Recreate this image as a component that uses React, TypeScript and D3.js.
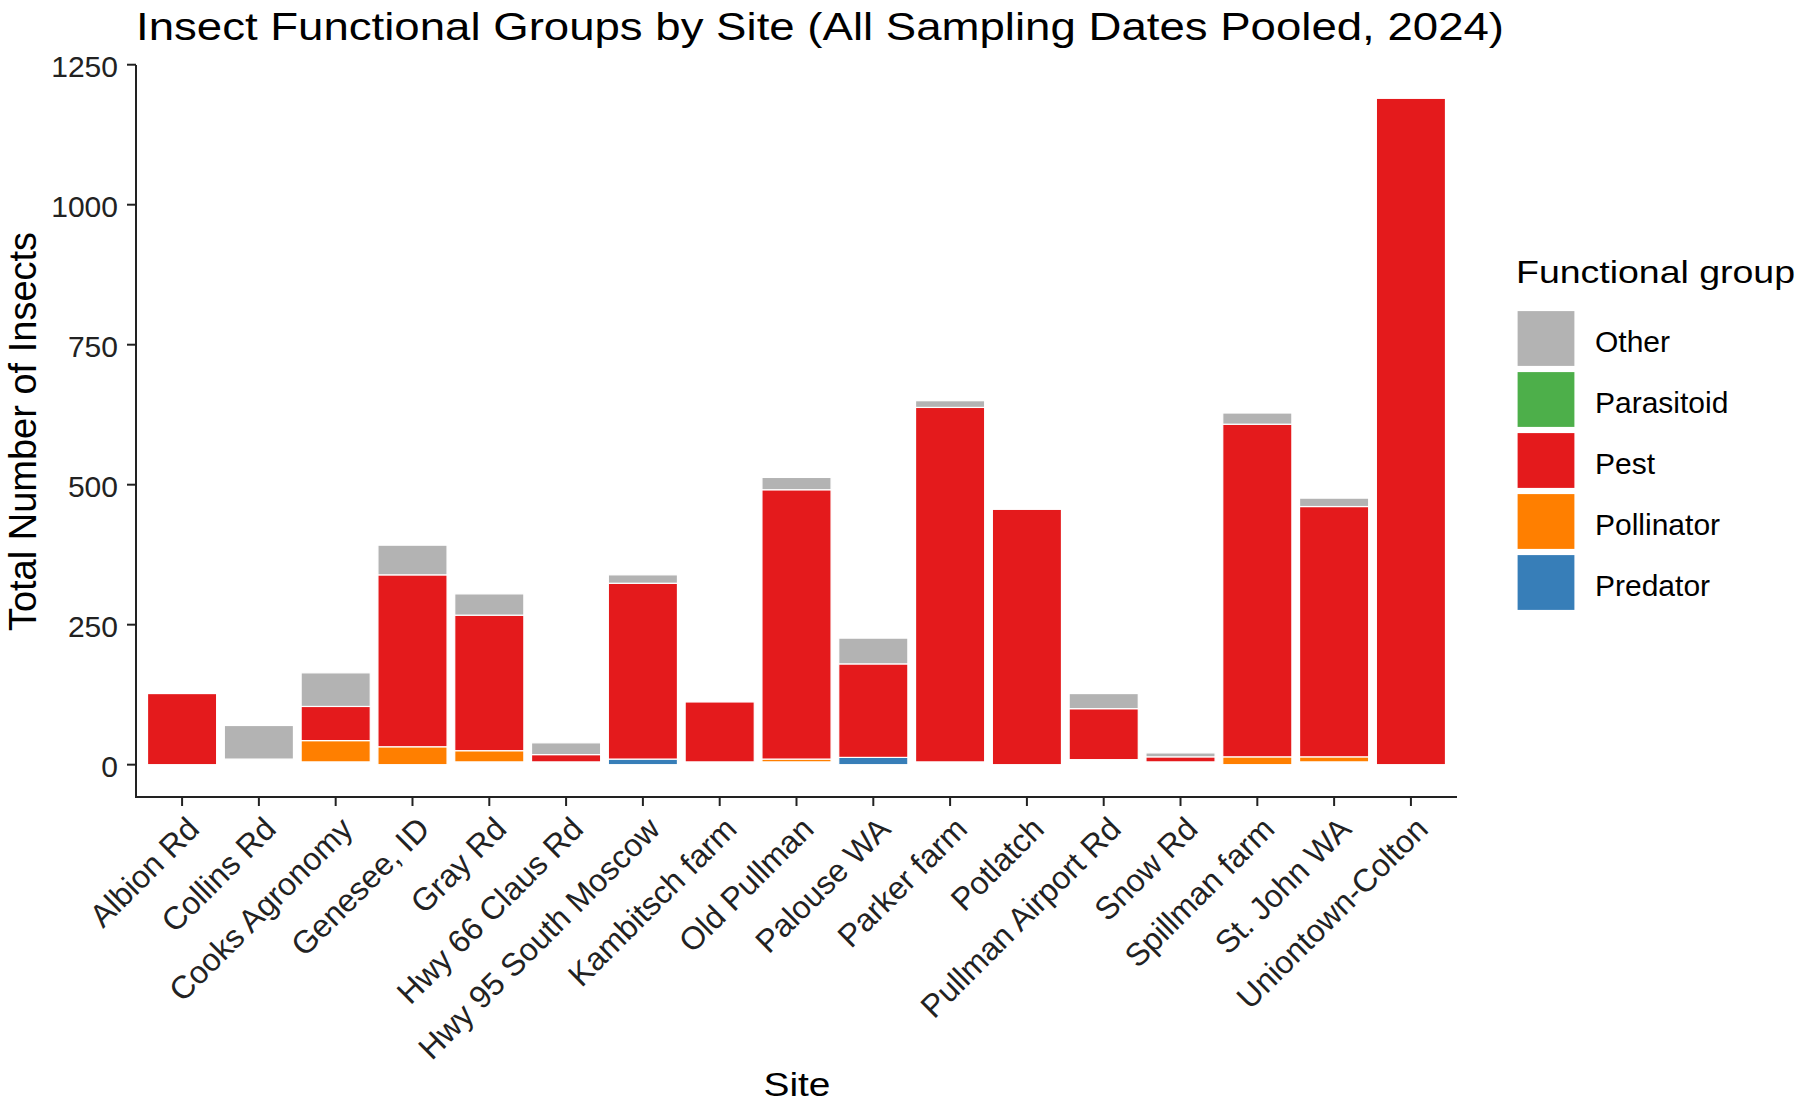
import React, { useEffect, useRef } from "react";
import * as d3 from "d3";

const sites = [
  "Albion Rd", "Collins Rd", "Cooks Agronomy", "Genesee, ID", "Gray Rd",
  "Hwy 66 Claus Rd", "Hwy 95 South Moscow", "Kambitsch farm", "Old Pullman",
  "Palouse WA", "Parker farm", "Potlatch", "Pullman Airport Rd", "Snow Rd",
  "Spillman farm", "St. John WA", "Uniontown-Colton",
];
const groups = ["Other", "Parasitoid", "Pest", "Pollinator", "Predator"];
const groupColors = ["#B3B3B3", "#4DAF4A", "#E41A1C", "#FF7F00", "#377EB8"];

// counts per site (same order as sites)
const other = [0, 60, 60, 53, 38, 21, 15, 0, 22, 46, 12, 0, 27, 7, 20, 15, 0];
const parasitoid = [0, 0, 0, 0, 0, 0, 0, 0, 0, 0, 0, 0, 0, 0, 0, 0, 0];
const pest = [127, 0, 61, 307, 242, 13, 314, 107, 481, 167, 633, 456, 91, 9, 594, 447, 1190];
const pollinator = [0, 0, 38, 32, 20, 0, 0, 0, 5, 0, 0, 0, 0, 0, 14, 9, 0];
const predator = [0, 0, 0, 0, 0, 0, 10, 0, 0, 13, 0, 0, 0, 0, 0, 0, 0];
// rows with no functional group (NA), drawn without fill
const unassigned = [0, 10, 5, 0, 5, 5, 0, 5, 5, 0, 5, 0, 9, 5, 0, 5, 0];

const yTicks = [0, 250, 500, 750, 1000, 1250];

const FONT = '"Liberation Sans", Arial, sans-serif';

const App = () => {
  const ref = useRef<SVGSVGElement>(null);

  useEffect(() => {
    const svg = d3.select(ref.current);
    svg.selectAll("*").remove();

    const rows = sites.map((s, i) => ({
      site: s,
      NA: unassigned[i],
      Predator: predator[i],
      Pollinator: pollinator[i],
      Pest: pest[i],
      Parasitoid: parasitoid[i],
      Other: other[i],
    }));
    const stackKeys = ["NA", "Predator", "Pollinator", "Pest", "Parasitoid", "Other"];
    const stacked = d3.stack<any>().keys(stackKeys)(rows);
    const maxTotal = d3.max(stacked[stacked.length - 1], (d) => d[1]) as number;

    const color = d3.scaleOrdinal<string, string>().domain(groups).range(groupColors);

    const left = 136, right = 1457, top = 65, bottom = 798;
    const x = d3.scaleBand().domain(sites).range([left, right]).paddingInner(0.1).paddingOuter(0.15);
    const y = d3.scaleLinear().domain([-0.05 * maxTotal, 1.05 * maxTotal]).range([bottom, top]);

    // bars
    const bars = svg.append("g").attr("id", "bars");
    stacked.forEach((layer) => {
      const fill = layer.key === "NA" ? "none" : color(layer.key);
      bars.append("g")
        .selectAll("rect")
        .data(layer.filter((d) => d[1] - d[0] > 0))
        .join("rect")
        .attr("x", (d) => x(d.data.site) as number)
        .attr("width", x.bandwidth())
        .attr("y", (d) => y(d[1]))
        .attr("height", (d) => y(d[0]) - y(d[1]))
        .attr("fill", fill)
        .attr("stroke", layer.key === "NA" ? "none" : "white")
        .attr("stroke-width", 1.2);
    });

    // axes
    const axis = svg.append("g").attr("id", "axes");
    axis.append("line")
      .attr("x1", left).attr("x2", left).attr("y1", top).attr("y2", bottom - 1)
      .attr("stroke", "#222").attr("stroke-width", 2);
    axis.append("line")
      .attr("x1", left - 1).attr("x2", right).attr("y1", bottom - 1).attr("y2", bottom - 1)
      .attr("stroke", "#222").attr("stroke-width", 2);

    yTicks.forEach((t) => {
      axis.append("line")
        .attr("x1", left - 9).attr("x2", left).attr("y1", y(t)).attr("y2", y(t))
        .attr("stroke", "#222").attr("stroke-width", 2);
      axis.append("text")
        .attr("x", left - 18).attr("y", y(t) + 12)
        .attr("text-anchor", "end")
        .attr("font-family", FONT).attr("font-size", "30px").attr("fill", "#222")
        .text(t);
    });

    sites.forEach((s) => {
      const cx = (x(s) as number) + x.bandwidth() / 2;
      axis.append("line")
        .attr("x1", cx).attr("x2", cx).attr("y1", bottom - 1).attr("y2", bottom + 8)
        .attr("stroke", "#222").attr("stroke-width", 2);
      axis.append("text")
        .attr("transform", `translate(${cx + 19},${bottom + 33}) rotate(-45)`)
        .attr("text-anchor", "end")
        .attr("font-family", FONT).attr("font-size", "32px").attr("fill", "#222")
        .text(s);
    });

    // titles
    svg.append("text")
      .attr("x", left).attr("y", 40)
      .attr("font-family", FONT).attr("font-size", "38px").attr("fill", "black")
      .attr("textLength", 1368).attr("lengthAdjust", "spacingAndGlyphs")
      .text("Insect Functional Groups by Site (All Sampling Dates Pooled, 2024)");
    svg.append("text")
      .attr("x", (left + right) / 2 - 33).attr("y", 1096)
      .attr("font-family", FONT).attr("font-size", "34px").attr("fill", "black")
      .attr("textLength", 67).attr("lengthAdjust", "spacingAndGlyphs")
      .text("Site");
    svg.append("text")
      .attr("transform", `translate(36,${(top + bottom) / 2}) rotate(-90)`)
      .attr("text-anchor", "middle")
      .attr("font-family", FONT).attr("font-size", "38px").attr("fill", "black")
      .text("Total Number of Insects");

    // legend
    const legend = svg.append("g").attr("id", "legend");
    legend.append("text")
      .attr("x", 1516).attr("y", 283)
      .attr("font-family", FONT).attr("font-size", "32px").attr("fill", "black")
      .attr("textLength", 279).attr("lengthAdjust", "spacingAndGlyphs")
      .text("Functional group");
    groups.forEach((g, i) => {
      const ky = 310.5 + i * 61;
      legend.append("rect")
        .attr("x", 1517).attr("y", ky).attr("width", 58).attr("height", 56)
        .attr("fill", color(g)).attr("stroke", "white").attr("stroke-width", 1.2);
      legend.append("text")
        .attr("x", 1595).attr("y", ky + 28 + 13)
        .attr("font-family", FONT).attr("font-size", "30px").attr("fill", "black")
        .text(g);
    });
  }, []);

  return (
    <svg
      ref={ref}
      width={1806}
      height={1102}
      style={{ position: "absolute", left: 0, top: 0, background: "white" }}
    ></svg>
  );
};

export default App;
